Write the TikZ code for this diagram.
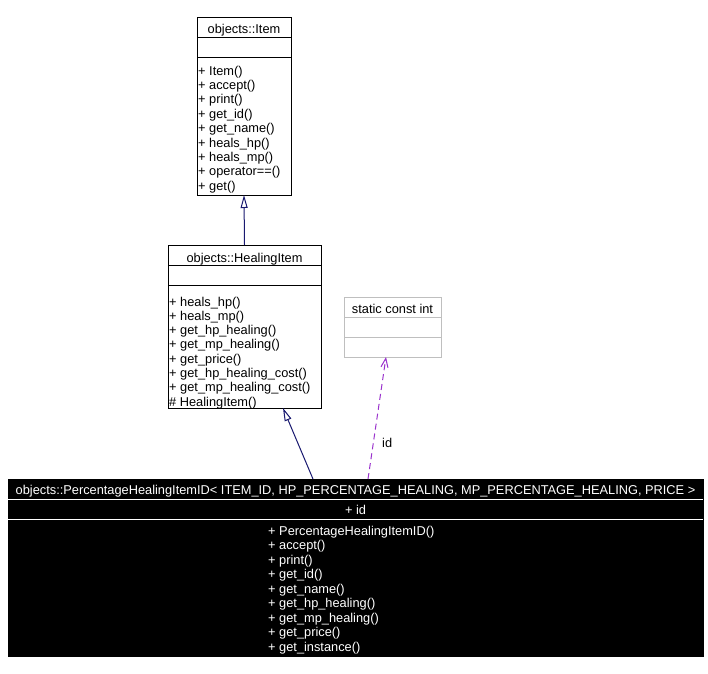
\documentclass[tikz,border=0pt]{standalone}
\usepackage{fontspec}
\setmainfont{Liberation Sans}
\usetikzlibrary{arrows.meta}
\definecolor{edgeblue}{HTML}{191970}
\definecolor{edgepurple}{HTML}{9A32CD}
\definecolor{boxgray}{HTML}{BFBFBF}
\tikzset{
  umlbox/.style={draw, line width=1pt, inner sep=0pt, outer sep=0pt, anchor=north west},
  memberline/.style={anchor=base west, inner sep=0pt, font=\fontsize{12.8}{15}\selectfont},
  classtitle/.style={anchor=base, inner sep=0pt, font=\fontsize{12.8}{15}\selectfont},
  inherit/.style={edgeblue, line width=1pt, -{Triangle[open,length=13pt,width=7pt]}},
  usage/.style={edgepurple, line width=1pt, dash pattern=on 6pt off 4pt, -{Straight Barb[length=9pt,width=7pt]}},
}
\begin{document}
\begin{tikzpicture}[x=1pt,y=-1pt]
  \useasboundingbox[fill=white] (0,0) rectangle (708,673);

  % objects::Item
  \node[umlbox, minimum width=94pt, minimum height=178pt] (item) at (197,17) {};
  \draw[line width=1pt] (197,37) -- (291,37) (197,57) -- (291,57);
  \node[classtitle] at (244,33) {objects::Item};
  \foreach \m [count=\i from 0] in {Item(), accept(), print(), get\_id(), get\_name(),
      heals\_hp(), heals\_mp(), operator==(), get()}
    \node[memberline] at (198,75+14.4*\i) {+ \m};

  % objects::HealingItem
  \node[umlbox, minimum width=153pt, minimum height=163pt] (healing) at (168,245) {};
  \draw[line width=1pt] (168,265) -- (321,265) (168,285) -- (321,285);
  \node[classtitle] at (244.5,262) {objects::HealingItem};
  \foreach \m [count=\i from 0] in {+ heals\_hp(), + heals\_mp(), + get\_hp\_healing(),
      + get\_mp\_healing(), + get\_price(), + get\_hp\_healing\_cost(),
      + get\_mp\_healing\_cost(), \# HealingItem()}
    \node[memberline] at (169,306+14.3*\i) {\m};

  % static const int
  \node[umlbox, draw=boxgray, minimum width=97pt, minimum height=60pt] (constint) at (344,297) {};
  \draw[boxgray, line width=1pt] (344,317) -- (441,317) (344,337) -- (441,337);
  \node[classtitle] at (392.5,313) {static const int};

  % objects::PercentageHealingItemID
  \node[umlbox, fill=black, minimum width=695pt, minimum height=177pt] (pct) at (8,479) {};
  \draw[white, line width=1pt] (8,499) -- (703,499) (8,519) -- (703,519);
  \node[classtitle, white] at (355.5,494)
    {objects::PercentageHealingItemID< ITEM\_ID, HP\_PERCENTAGE\_HEALING, MP\_PERCENTAGE\_HEALING, PRICE >};
  \node[classtitle, white] at (355.5,514) {+ id};
  \foreach \m [count=\i from 0] in {PercentageHealingItemID(), accept(), print(), get\_id(),
      get\_name(), get\_hp\_healing(), get\_mp\_healing(), get\_price(), get\_instance()}
    \node[memberline, white] at (268,535+14.5*\i) {+ \m};

  % relations
  \draw[inherit] (healing.north) -- (item.south);
  \draw[inherit] ([xshift=-42.5pt]pct.north) -- ([xshift=38.5pt]healing.south);
  \draw[usage] ([xshift=12.5pt]pct.north) -- node[pos=0.26, right=9pt, classtitle, anchor=base west, text=black] {id}
    ([xshift=-6.5pt]constint.south);
\end{tikzpicture}
\end{document}
